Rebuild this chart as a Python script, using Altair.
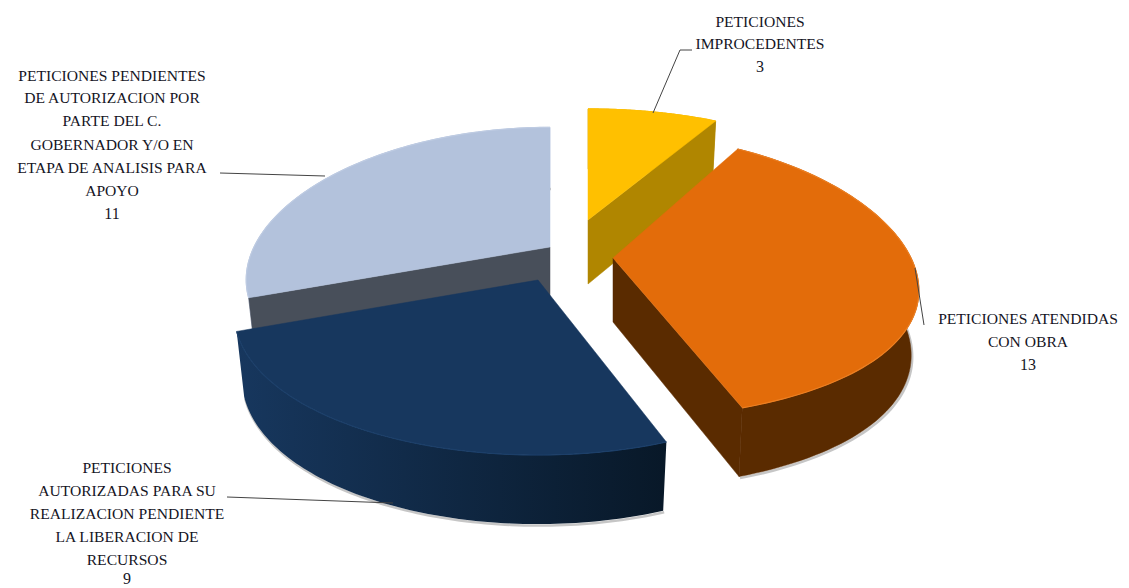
import numpy as np
import pandas as pd
import altair as alt

# ---- data (clockwise from the top)
categories = ["Peticiones Improcedentes", "Peticiones Atendidas con Obra",
              "Peticiones Autorizadas", "Peticiones Pendientes"]
values = [3, 13, 9, 11]
top_colors = ["#FFC000", "#E36C0A", "#17375E", "#B3C2DC"]
face_colors = ["#B08600", "#5A2B00", "#0C2038", "#484F5A"]
wall_colors = ["#B08600", "#5A2B00", "#17375E", "#B9C7DF"]
wall_end_colors = ["#B08600", "#5A2B00", "#081828", "#B9C7DF"]
rim_colors = ["#FFC000", "#EC7F22", "#1C3F69", "#BECBE2"]
apex_x = [588, 613, 538, 550]
apex_y = [220, 258, 280, 247]
view_rx = [305.0, 298.0, 296.0, 296.0]
view_ky = [0.26, 0.13, 0.20, 0.17]

label_lines = [
    (["PETICIONES", "IMPROCEDENTES", "3"], 760, [22, 44, 67]),
    (["PETICIONES ATENDIDAS", "CON OBRA", "13"], 1028, [319, 342, 365]),
    (["PETICIONES", "AUTORIZADAS  PARA  SU", "REALIZACION PENDIENTE", "LA LIBERACION DE", "RECURSOS", "9"],
     127, [468, 491, 514, 537, 560, 579]),
    (["PETICIONES PENDIENTES", "DE AUTORIZACION  POR", "PARTE DEL C.", "GOBERNADOR  Y/O EN",
      "ETAPA DE ANALISIS  PARA", "APOYO", "11"], 112, [76, 98, 121, 145, 168, 191, 214]),
]
leaders_x = [[692, 680, 653], [915, 924], [227, 393], [220, 325]]
leaders_y = [[50, 50, 113], [268, 325], [497, 503], [173, 176]]

# ---- view of the tilted pie
RY, KX = 140.0, 0.225
DEPTH, SHRINK = 64.0, 0.975


def project(k, theta, drop=False):
    u, v = np.sin(theta), np.cos(theta)
    w = 1 + KX * v
    dx = view_rx[k] * u / w
    dy = -RY * v / (1 + view_ky[k] * v)
    if drop:
        return apex_x[k] + dx * SHRINK, apex_y[k] + dy + DEPTH * w ** -0.3
    return apex_x[k] + dx, apex_y[k] + dy


def polygon(xs, ys):
    xs, ys = list(xs), list(ys)
    return pd.DataFrame({"x": xs, "y": ys, "i": range(len(xs))})


enc = dict(
    x=alt.X("x:Q", scale=alt.Scale(domain=[8, 1121], nice=False, zero=False), axis=None),
    y=alt.Y("y:Q", scale=alt.Scale(domain=[580, 8], nice=False, zero=False), axis=None),
    order=alt.Order("i:Q"),
)


def shape(df, fill, stroke=None, sw=0.5):
    stroke = stroke or fill
    return alt.Chart(df).mark_line(fill=fill, stroke=stroke, strokeWidth=sw, strokeJoin="round").encode(**enc)


total = sum(values)
ends = np.cumsum(values) / total * 2 * np.pi
starts = np.concatenate([[0.0], ends[:-1]])
layers = []

for k in [3, 0, 1, 2]:      # painter's order, back to front
    cx, cy = apex_x[k], apex_y[k]
    th = np.linspace(starts[k], ends[k], 90)
    ax, ay = project(k, th)
    bx, by = project(k, th, drop=True)
    apex_bottom_y = cy + DEPTH

    # soft shadow under the outer wall
    layers.append(
        alt.Chart(polygon(bx + 1, by + 1.5)).mark_line(stroke="#808080", strokeWidth=2.5, opacity=0.45).encode(**enc)
    )

    # outer wall
    wall_df = polygon(np.r_[ax, bx[::-1], ax[:1]], np.r_[ay, by[::-1], ay[:1]])
    if wall_colors[k] == wall_end_colors[k]:
        layers.append(shape(wall_df, wall_colors[k]))
    else:
        wall_fill = alt.LinearGradient(
            gradient="linear", x1=0, y1=0, x2=1, y2=0,
            stops=[alt.GradientStop(offset=0, color=wall_colors[k]),
                   alt.GradientStop(offset=1, color=wall_end_colors[k])])
        layers.append(
            alt.Chart(wall_df).mark_line(fill=wall_fill, strokeOpacity=0, strokeJoin="round").encode(**enc)
        )

    # cut faces that look towards the viewer
    for t, normal in ((starts[k], starts[k] - np.pi / 2), (ends[k], ends[k] + np.pi / 2)):
        if np.cos(normal) < -0.01:
            px, py = project(k, t)
            qx, qy = project(k, t, drop=True)
            layers.append(shape(polygon([cx, px, qx, cx, cx], [cy, py, qy, apex_bottom_y, cy]), face_colors[k]))

    # top surface
    layers.append(shape(polygon(np.r_[cx, ax, cx], np.r_[cy, ay, cy]), top_colors[k]))
    # lit rim
    layers.append(
        alt.Chart(polygon(ax, ay)).mark_line(stroke=rim_colors[k], strokeWidth=1.2).encode(**enc)
    )

# leader lines
for lx, ly in zip(leaders_x, leaders_y):
    layers.append(alt.Chart(polygon(lx, ly)).mark_line(stroke="#444444", strokeWidth=1).encode(**enc))

# labels: words in capitals at the small size, counts at the full size
rows = []
for lines, cx, ys in label_lines:
    for line, yy in zip(lines, ys):
        rows.append({"x": cx, "y": yy, "t": line, "s": 16 if line.isdigit() else 15.6})
layers.append(
    alt.Chart(pd.DataFrame(rows))
    .mark_text(font="Liberation Serif", color="#15151f", align="center", baseline="middle")
    .encode(x=enc["x"], y=enc["y"], text="t:N", size=alt.Size("s:Q", scale=None, legend=None))
)

chart = alt.layer(*layers).properties(
    width=1113, height=572,
    padding={"left": 0, "top": 0, "right": 0, "bottom": 8},
    autosize=alt.AutoSizeParams(type="none"),
    background="white",
).configure_view(stroke=None)

chart.save("out.html", embed_options={"renderer": "svg", "actions": False})
